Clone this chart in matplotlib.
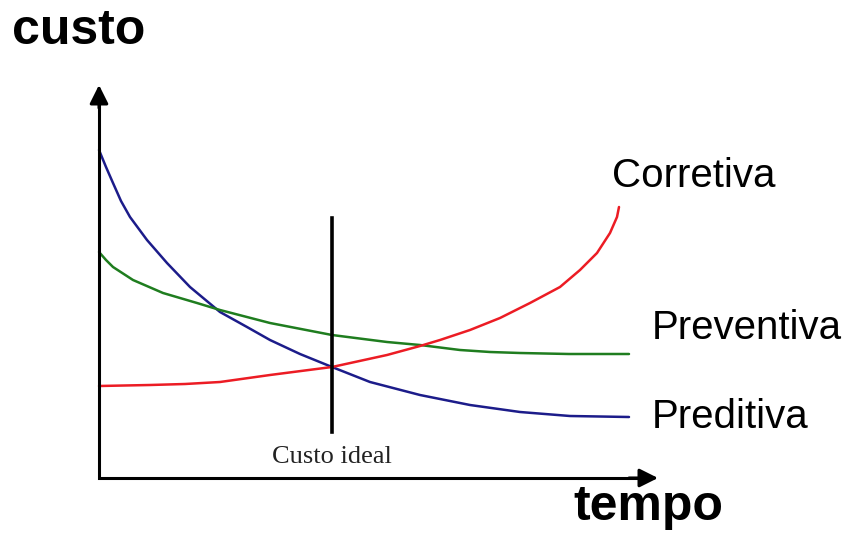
import matplotlib.pyplot as plt

# Curve values (tempo, custo)
t_pred = [0, 7, 14, 22, 31, 48, 68, 91, 121, 148, 171, 201, 233, 271, 321, 371, 421, 471, 530]
c_pred = [328, 311, 295, 277, 261, 238, 215, 191, 166, 151, 138, 124, 111, 96, 83, 73, 66, 62, 61]

t_prev = [0, 7, 14, 34, 64, 98, 121, 171, 233, 288, 321, 361, 391, 421, 470, 530]
c_prev = [226, 218, 211, 198, 185, 175, 168, 155, 143, 136, 133, 128, 126, 125, 124, 124]

t_corr = [0, 51, 86, 121, 171, 233, 288, 321, 341, 371, 401, 431, 461, 481, 498, 511, 518, 520]
c_corr = [92, 93, 94, 96, 103, 111, 123, 132, 138, 148, 160, 175, 191, 208, 225, 245, 261, 271]

ideal_t = 233
ideal_range = [46, 260]

labels = ['Corretiva', 'Preventiva', 'Preditiva']

fig = plt.figure(figsize=(8.63, 5.35), dpi=100)
ax = fig.add_axes([0, 0, 1, 1])
ax.set_xlim(-99, 764)
ax.set_ylim(-57, 478)
ax.axis('off')

# Curves
style = dict(lw=1.8, solid_joinstyle='round', solid_capstyle='round')
ax.plot(t_pred, c_pred, color='#1c1c8a', **style)
ax.plot(t_prev, c_prev, color='#1f7d1f', **style)
ax.plot(t_corr, c_corr, color='#ec1c24', **style)

# Custo ideal line
ax.plot([ideal_t, ideal_t], ideal_range, color='black', lw=2.6)
ax.text(ideal_t, 15, 'Custo ideal', family='Liberation Serif', fontsize=19,
        ha='center', va='baseline', color='#222222')

# Axes with arrows
arrow = dict(arrowstyle='-|>', lw=2.2, color='black', mutation_scale=28,
             shrinkA=0, shrinkB=0)
ax.plot([0, 0, 540], [380, 0, 0], color='black', lw=2.2, solid_joinstyle='miter')
ax.annotate('', xy=(0, 393), xytext=(0, 370), arrowprops=arrow)
ax.annotate('', xy=(559, 0), xytext=(530, 0), arrowprops=arrow)

# Axis titles
ax.text(-87, 434, 'custo', family='Liberation Sans', fontweight='bold',
        fontsize=36, ha='left', va='baseline')
ax.text(474, -42, 'tempo', family='Liberation Sans', fontweight='bold',
        fontsize=36, ha='left', va='baseline')

# Curve labels
ax.text(513, 291, labels[0], family='Liberation Sans', fontsize=29, ha='left', va='baseline')
ax.text(553, 139, labels[1], family='Liberation Sans', fontsize=29, ha='left', va='baseline')
ax.text(553, 50, labels[2], family='Liberation Sans', fontsize=29, ha='left', va='baseline')

fig.savefig('out.png', dpi=100)
